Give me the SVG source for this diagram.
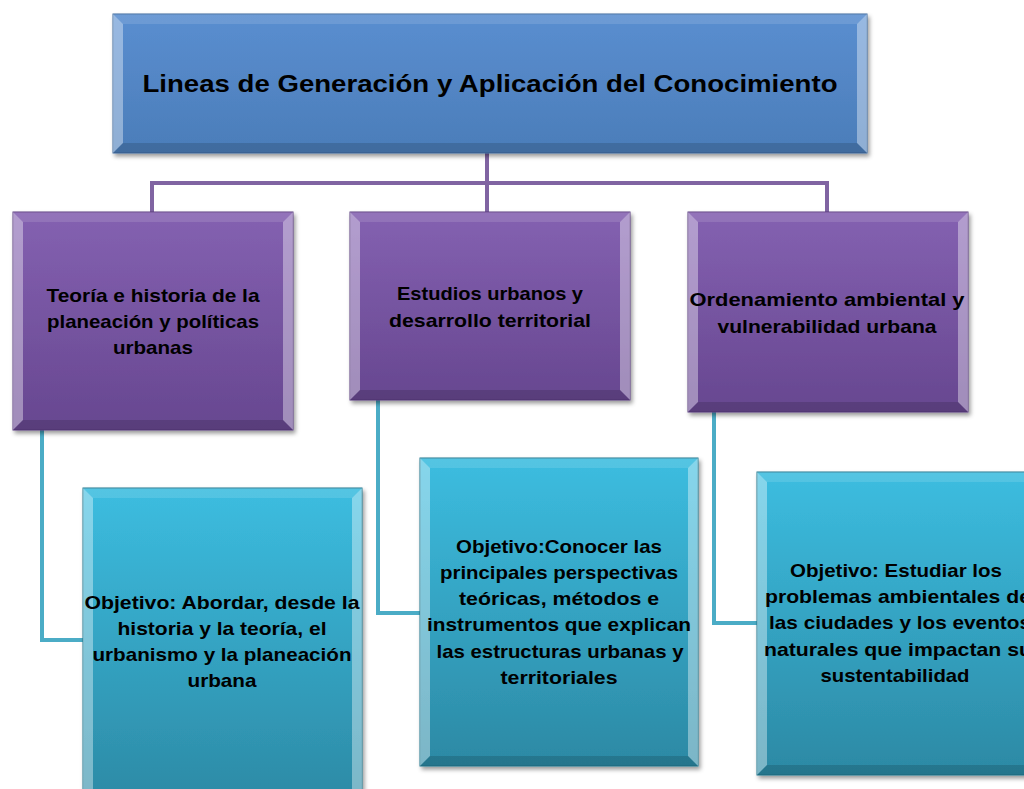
<svg xmlns="http://www.w3.org/2000/svg" width="1024" height="789" viewBox="0 0 1024 789">
<defs>
<linearGradient id="gBlue" x1="0" y1="0" x2="0" y2="1"><stop offset="0" stop-color="#5a8ed0"/><stop offset="1" stop-color="#4b7db9"/></linearGradient>
<linearGradient id="gPurple" x1="0" y1="0" x2="0" y2="1"><stop offset="0" stop-color="#8461b1"/><stop offset="1" stop-color="#674790"/></linearGradient>
<linearGradient id="gCyan" x1="0" y1="0" x2="0" y2="1"><stop offset="0" stop-color="#3cbde0"/><stop offset="1" stop-color="#2c89a4"/></linearGradient>
<filter id="sh" x="-10%" y="-10%" width="120%" height="120%"><feDropShadow dx="2" dy="3" stdDeviation="2" flood-color="#000" flood-opacity="0.4"/></filter>
<style>
.blue{fill:url(#gBlue);stroke:#3f6a9e;stroke-width:1}
.purple{fill:url(#gPurple);stroke:#5a3d80;stroke-width:1}
.cyan{fill:url(#gCyan);stroke:#25788f;stroke-width:1}
.hl{fill:#ffffff;fill-opacity:0.38}
.ht{fill:#ffffff;fill-opacity:0.12}
.dk{fill:#000000;fill-opacity:0.14}
.pl{stroke:#8064a2;stroke-width:4;fill:none}
.cl{stroke:#4bacc6;stroke-width:4;fill:none}
text{font-family:"Liberation Sans",Arial,sans-serif;font-weight:bold;fill:#000;text-anchor:middle}
.t1{font-size:24px}
.t2{font-size:19px}
</style>
</defs>
<g id="connectors">
<polyline class="pl" points="487,153 487,183 152,183 152,212"/>
<polyline class="pl" points="487,183 827,183 827,212"/>
<polyline class="pl" points="487,183 487,212"/>
<polyline class="cl" points="42,430 42,640 85,640"/>
<polyline class="cl" points="378,400 378,613 422,613"/>
<polyline class="cl" points="714,412 714,623 759,623"/>
</g>
<g id="root">
<rect class="blue" x="113" y="14" width="754" height="139" filter="url(#sh)"/>
<polygon class="ht" points="113,14 867,14 857,24 123,24"/>
<polygon class="hl" points="113,14 123,24 123,143 113,153"/>
<polygon class="hl" points="867,14 857,24 857,143 867,153"/>
<polygon class="dk" points="113,153 123,143 857,143 867,153"/>
<text class="t1" x="490" y="92" textLength="695" lengthAdjust="spacingAndGlyphs">Lineas de Generación  y Aplicación del Conocimiento</text>
</g>
<g id="line1">
<rect class="purple" x="13" y="212" width="280" height="218" filter="url(#sh)"/>
<polygon class="ht" points="13,212 293,212 283,222 23,222"/>
<polygon class="hl" points="13,212 23,222 23,420 13,430"/>
<polygon class="hl" points="293,212 283,222 283,420 293,430"/>
<polygon class="dk" points="13,430 23,420 283,420 293,430"/>
<text class="t2" x="153" y="302" textLength="213" lengthAdjust="spacingAndGlyphs">Teoría e historia de la</text>
<text class="t2" x="153" y="328" textLength="212" lengthAdjust="spacingAndGlyphs">planeación y políticas</text>
<text class="t2" x="153" y="354" textLength="80" lengthAdjust="spacingAndGlyphs">urbanas</text>
</g>
<g id="line2">
<rect class="purple" x="350" y="212" width="280" height="188" filter="url(#sh)"/>
<polygon class="ht" points="350,212 630,212 620,222 360,222"/>
<polygon class="hl" points="350,212 360,222 360,390 350,400"/>
<polygon class="hl" points="630,212 620,222 620,390 630,400"/>
<polygon class="dk" points="350,400 360,390 620,390 630,400"/>
<text class="t2" x="490" y="300" textLength="186" lengthAdjust="spacingAndGlyphs">Estudios urbanos y</text>
<text class="t2" x="490" y="327" textLength="202" lengthAdjust="spacingAndGlyphs">desarrollo territorial</text>
</g>
<g id="line3">
<rect class="purple" x="688" y="212" width="280" height="200" filter="url(#sh)"/>
<polygon class="ht" points="688,212 968,212 958,222 698,222"/>
<polygon class="hl" points="688,212 698,222 698,402 688,412"/>
<polygon class="hl" points="968,212 958,222 958,402 968,412"/>
<polygon class="dk" points="688,412 698,402 958,402 968,412"/>
<text class="t2" x="827" y="306" textLength="275" lengthAdjust="spacingAndGlyphs">Ordenamiento ambiental  y</text>
<text class="t2" x="827" y="333" textLength="219" lengthAdjust="spacingAndGlyphs">vulnerabilidad urbana</text>
</g>
<g id="obj1">
<rect class="cyan" x="83" y="488" width="279" height="320" filter="url(#sh)"/>
<polygon class="ht" points="83,488 362,488 352,498 93,498"/>
<polygon class="hl" points="83,488 93,498 93,808 83,808"/>
<polygon class="hl" points="362,488 352,498 352,808 362,808"/>
<text class="t2" x="222" y="609" textLength="275" lengthAdjust="spacingAndGlyphs">Objetivo: Abordar, desde la</text>
<text class="t2" x="222" y="635" textLength="209" lengthAdjust="spacingAndGlyphs">historia y la teoría, el</text>
<text class="t2" x="222" y="661" textLength="259" lengthAdjust="spacingAndGlyphs">urbanismo y la planeación</text>
<text class="t2" x="222" y="687" textLength="69" lengthAdjust="spacingAndGlyphs">urbana</text>
</g>
<g id="obj2">
<rect class="cyan" x="420" y="458" width="278" height="308" filter="url(#sh)"/>
<polygon class="ht" points="420,458 698,458 688,468 430,468"/>
<polygon class="hl" points="420,458 430,468 430,756 420,766"/>
<polygon class="hl" points="698,458 688,468 688,756 698,766"/>
<polygon class="dk" points="420,766 430,756 688,756 698,766"/>
<text class="t2" x="559" y="553" textLength="206" lengthAdjust="spacingAndGlyphs">Objetivo:Conocer las</text>
<text class="t2" x="559" y="579" textLength="238" lengthAdjust="spacingAndGlyphs">principales perspectivas</text>
<text class="t2" x="559" y="605" textLength="200" lengthAdjust="spacingAndGlyphs">teóricas, métodos e</text>
<text class="t2" x="559" y="631" textLength="264" lengthAdjust="spacingAndGlyphs">instrumentos que explican</text>
<text class="t2" x="560" y="658" textLength="247" lengthAdjust="spacingAndGlyphs">las estructuras urbanas y</text>
<text class="t2" x="559" y="684" textLength="117" lengthAdjust="spacingAndGlyphs">territoriales</text>
</g>
<g id="obj3">
<rect class="cyan" x="757" y="472" width="290" height="303" filter="url(#sh)"/>
<polygon class="ht" points="757,472 1047,472 1037,482 767,482"/>
<polygon class="hl" points="757,472 767,482 767,765 757,775"/>
<polygon class="dk" points="757,775 767,765 1037,765 1047,775"/>
<text class="t2" x="896" y="577" textLength="212" lengthAdjust="spacingAndGlyphs">Objetivo: Estudiar los</text>
<text class="t2" x="898" y="603" textLength="266" lengthAdjust="spacingAndGlyphs">problemas ambientales de</text>
<text class="t2" x="900" y="629" textLength="262" lengthAdjust="spacingAndGlyphs">las ciudades y los eventos</text>
<text class="t2" x="898" y="656" textLength="268" lengthAdjust="spacingAndGlyphs">naturales que impactan su</text>
<text class="t2" x="895" y="682" textLength="149" lengthAdjust="spacingAndGlyphs">sustentabilidad</text>
</g>
</svg>
